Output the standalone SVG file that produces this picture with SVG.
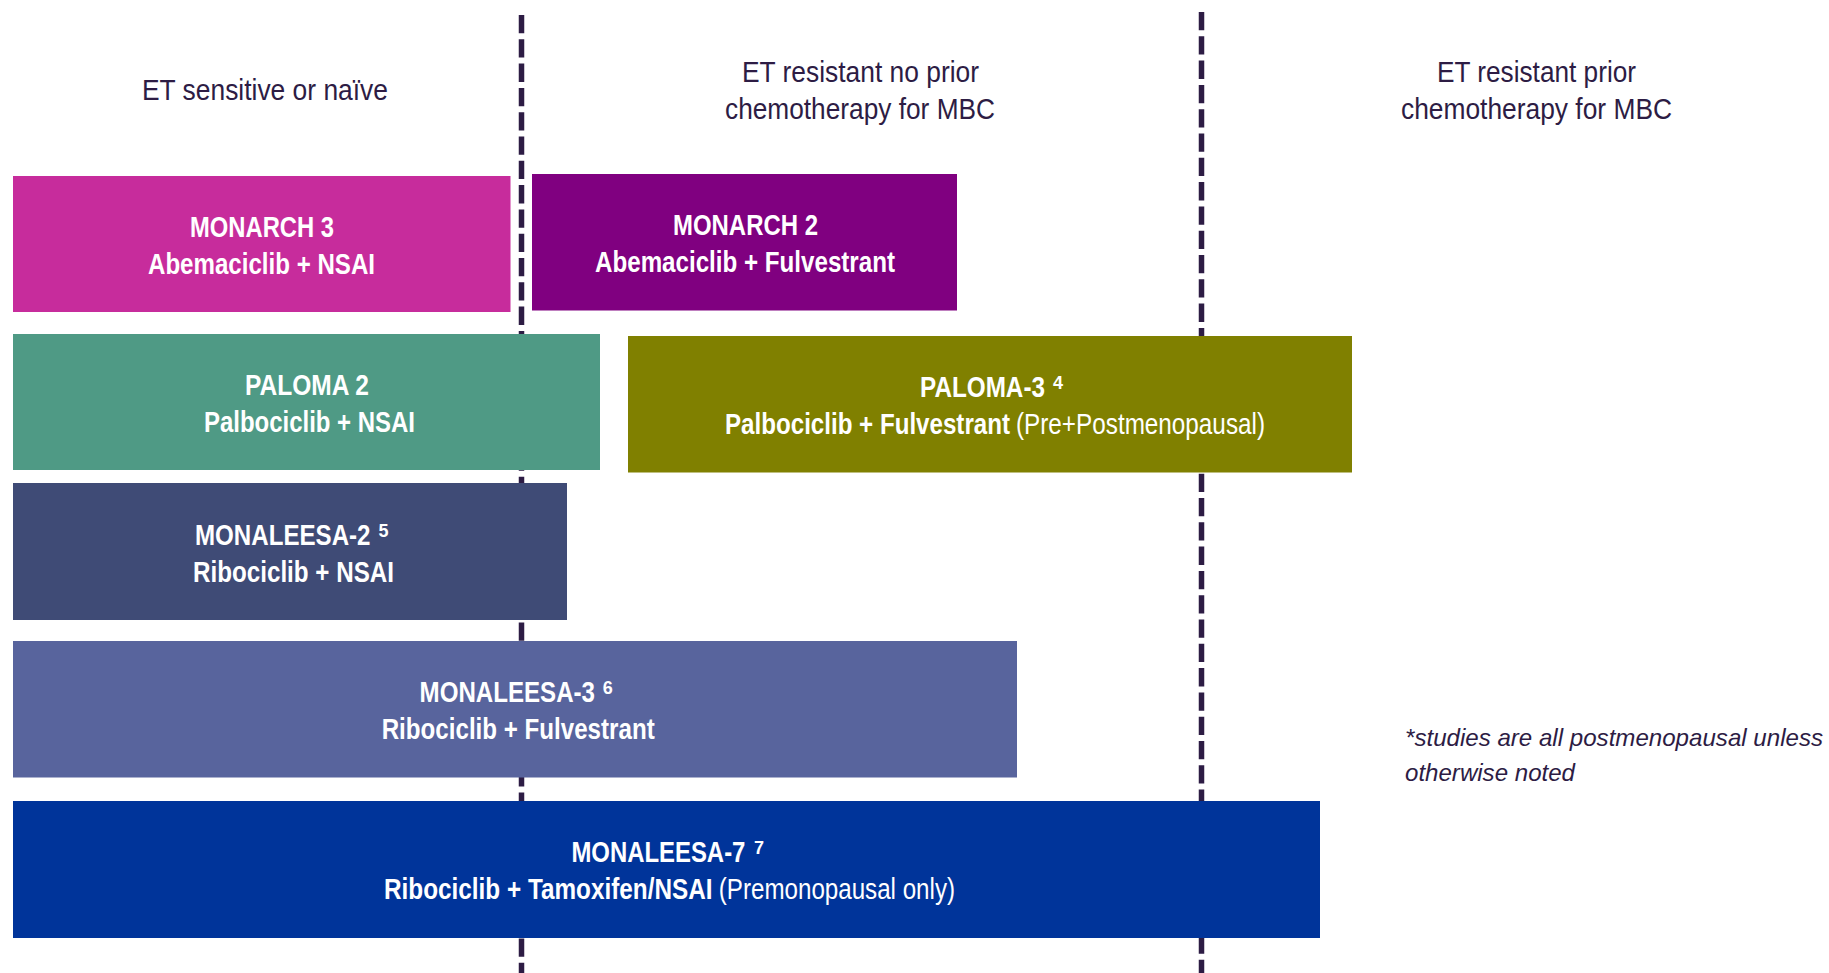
<svg xmlns="http://www.w3.org/2000/svg" width="1829" height="973" viewBox="0 0 1829 973">
  <style>
    .hdr { font-family: "Liberation Sans Narrow", "Liberation Sans", Arial, sans-serif; font-size: 30px; fill: #2d1c44; }
    .t { font-family: "Liberation Sans Narrow", "Liberation Sans", Arial, sans-serif; font-size: 29px; font-weight: bold; fill: #ffffff; }
    .r { font-weight: normal; }
    .sup { font-size: 18px; }
    .note { font-family: "Liberation Sans", Arial, sans-serif; font-size: 24px; font-style: italic; fill: #2d1c44; }
    .divider { stroke: #2d1c44; stroke-width: 5.5; stroke-dasharray: 18.3 6; fill: none; }
  </style>
  <rect width="1829" height="973" fill="#ffffff"/>

  <!-- column dividers -->
  <g id="connectors">
    <line class="divider" x1="521.5" y1="15" x2="521.5" y2="973"/>
    <line class="divider" x1="1201.5" y1="12" x2="1201.5" y2="973"/>
  </g>

  <!-- column headings -->
  <g id="header-sensitive">
    <text class="hdr" x="142" y="100" textLength="246" lengthAdjust="spacingAndGlyphs">ET sensitive or naïve</text>
  </g>
  <g id="header-resistant-no-chemo">
    <text class="hdr" x="742" y="82" textLength="237" lengthAdjust="spacingAndGlyphs">ET resistant no prior</text>
    <text class="hdr" x="725" y="119" textLength="270" lengthAdjust="spacingAndGlyphs">chemotherapy for MBC</text>
  </g>
  <g id="header-resistant-chemo">
    <text class="hdr" x="1437" y="82" textLength="199" lengthAdjust="spacingAndGlyphs">ET resistant prior</text>
    <text class="hdr" x="1401" y="119" textLength="271" lengthAdjust="spacingAndGlyphs">chemotherapy for MBC</text>
  </g>

  <!-- trial bars -->
  <g id="monarch3">
    <rect x="13" y="176" width="497.5" height="136" fill="#c72c9c"/>
    <text class="t" x="190" y="237" textLength="144" lengthAdjust="spacingAndGlyphs">MONARCH 3</text>
    <text class="t" x="148" y="274" textLength="227" lengthAdjust="spacingAndGlyphs">Abemaciclib + NSAI</text>
  </g>

  <g id="monarch2">
    <rect x="532" y="174" width="425" height="136.5" fill="#800080"/>
    <text class="t" x="673" y="235" textLength="145" lengthAdjust="spacingAndGlyphs">MONARCH 2</text>
    <text class="t" x="595" y="272" textLength="300" lengthAdjust="spacingAndGlyphs">Abemaciclib + Fulvestrant</text>
  </g>

  <g id="paloma2">
    <rect x="13" y="334" width="587" height="136" fill="#4f9a85"/>
    <text class="t" x="245" y="395" textLength="124" lengthAdjust="spacingAndGlyphs">PALOMA 2</text>
    <text class="t" x="204" y="432" textLength="211" lengthAdjust="spacingAndGlyphs">Palbociclib + NSAI</text>
  </g>

  <g id="paloma3">
    <rect x="628" y="336" width="724" height="136.5" fill="#808000"/>
    <text class="t" x="920" y="397"><tspan textLength="125" lengthAdjust="spacingAndGlyphs">PALOMA-3</tspan><tspan class="sup" x="1053" dy="-8">4</tspan></text>
    <text class="t" x="725" y="434"><tspan textLength="285" lengthAdjust="spacingAndGlyphs">Palbociclib + Fulvestrant</tspan><tspan class="r" x="1016" textLength="249" lengthAdjust="spacingAndGlyphs">(Pre+Postmenopausal)</tspan></text>
  </g>

  <g id="monaleesa2">
    <rect x="13" y="483" width="554" height="137" fill="#3f4b76"/>
    <text class="t" x="195" y="545"><tspan textLength="175.5" lengthAdjust="spacingAndGlyphs">MONALEESA-2</tspan><tspan class="sup" x="378.6" dy="-8">5</tspan></text>
    <text class="t" x="193" y="582" textLength="201" lengthAdjust="spacingAndGlyphs">Ribociclib + NSAI</text>
  </g>

  <g id="monaleesa3">
    <rect x="13" y="641" width="1004" height="136.5" fill="#58649d"/>
    <text class="t" x="419.6" y="702"><tspan textLength="175.4" lengthAdjust="spacingAndGlyphs">MONALEESA-3</tspan><tspan class="sup" x="602.7" dy="-8">6</tspan></text>
    <text class="t" x="381.7" y="739" textLength="273" lengthAdjust="spacingAndGlyphs">Ribociclib + Fulvestrant</text>
  </g>

  <g id="monaleesa7">
    <rect x="13" y="801" width="1307" height="137" fill="#00349a"/>
    <text class="t" x="571.4" y="862"><tspan textLength="174" lengthAdjust="spacingAndGlyphs">MONALEESA-7</tspan><tspan class="sup" x="754" dy="-8">7</tspan></text>
    <text class="t" x="384" y="899"><tspan textLength="328.5" lengthAdjust="spacingAndGlyphs">Ribociclib + Tamoxifen/NSAI</tspan><tspan class="r" x="718.8" textLength="236.2" lengthAdjust="spacingAndGlyphs">(Premonopausal only)</tspan></text>
  </g>

  <!-- footnote -->
  <g id="footnote">
    <text class="note" x="1405" y="746" textLength="418" lengthAdjust="spacingAndGlyphs">*studies are all postmenopausal unless</text>
    <text class="note" x="1405" y="781" textLength="170" lengthAdjust="spacingAndGlyphs">otherwise noted</text>
  </g>
</svg>
